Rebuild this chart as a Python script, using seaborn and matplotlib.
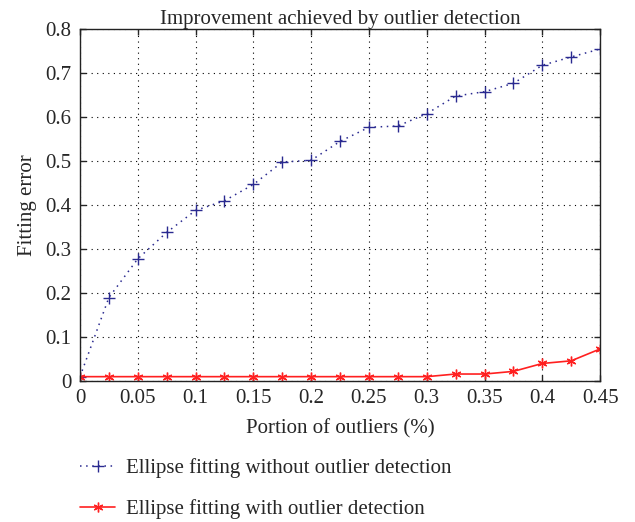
import numpy as np
import pandas as pd
import matplotlib
matplotlib.use('Agg')
import matplotlib.pyplot as plt
import seaborn as sns

portion = [0, 0.025, 0.05, 0.075, 0.1, 0.125, 0.15, 0.175, 0.2, 0.225,
           0.25, 0.275, 0.3, 0.325, 0.35, 0.375, 0.4, 0.425, 0.45]
err_without = [0.01, 0.19, 0.278, 0.338, 0.388, 0.41, 0.447, 0.498, 0.502, 0.545,
               0.577, 0.58, 0.608, 0.648, 0.658, 0.677, 0.718, 0.737, 0.755]
err_with = [0.01, 0.01, 0.01, 0.01, 0.01, 0.01, 0.01, 0.01, 0.01, 0.01,
            0.01, 0.01, 0.01, 0.016, 0.016, 0.022, 0.04, 0.046, 0.073]
xticks = [0, 0.05, 0.1, 0.15, 0.2, 0.25, 0.3, 0.35, 0.4, 0.45]
xtick_labels = ['0', '0.05', '0.1', '0.15', '0.2', '0.25', '0.3', '0.35', '0.4', '0.45']
yticks = [0, 0.1, 0.2, 0.3, 0.4, 0.5, 0.6, 0.7, 0.8]
ytick_labels = ['0', '0.1', '0.2', '0.3', '0.4', '0.5', '0.6', '0.7', '0.8']

sns.set_style('ticks')
plt.rcParams['font.family'] = ['Liberation Serif', 'DejaVu Serif']
plt.rcParams['xtick.direction'] = 'in'
plt.rcParams['ytick.direction'] = 'in'

fig = plt.figure(figsize=(6.35, 5.22), dpi=100)
ax = fig.add_axes([0.126, 0.270, 0.819, 0.674])

ax.plot(portion, err_without, color='#2a2a90', lw=1.1,
        linestyle=(0, (1, 3)), marker='+', markersize=8, markeredgewidth=1,
        label='Ellipse fitting without outlier detection')
ax.plot(portion, err_with, color='#ff2020', lw=1.2, linestyle='-',
        marker=(6, 2, 0), markersize=7, markeredgewidth=1,
        label='Ellipse fitting with outlier detection')

ax.set_xlim(0, 0.45)
ax.set_ylim(0, 0.8)
ax.set_xticks(xticks)
ax.set_xticklabels(xtick_labels)
ax.set_yticks(yticks)
ax.set_yticklabels(ytick_labels)
ax.tick_params(labelsize=15, top=True, right=True, length=4, width=1, pad=6)
ax.grid(True, color='black', linestyle=(0, (1, 4)), lw=0.8)
for sp in ax.spines.values():
    sp.set_linewidth(1)
    sp.set_color('#222222')

ax.set_title('Improvement achieved by outlier detection', fontsize=15, pad=4)
ax.set_xlabel('Portion of outliers (%)', fontsize=15, labelpad=8)
ax.set_ylabel('Fitting error', fontsize=15, labelpad=6)

ax.legend(loc='upper left', bbox_to_anchor=(0.0, -0.22), frameon=False,
          fontsize=15, handlelength=1.7, handletextpad=0.5, labelspacing=1.0,
          borderpad=0, borderaxespad=0)

fig.savefig('out.png', dpi=100)
plt.close()
